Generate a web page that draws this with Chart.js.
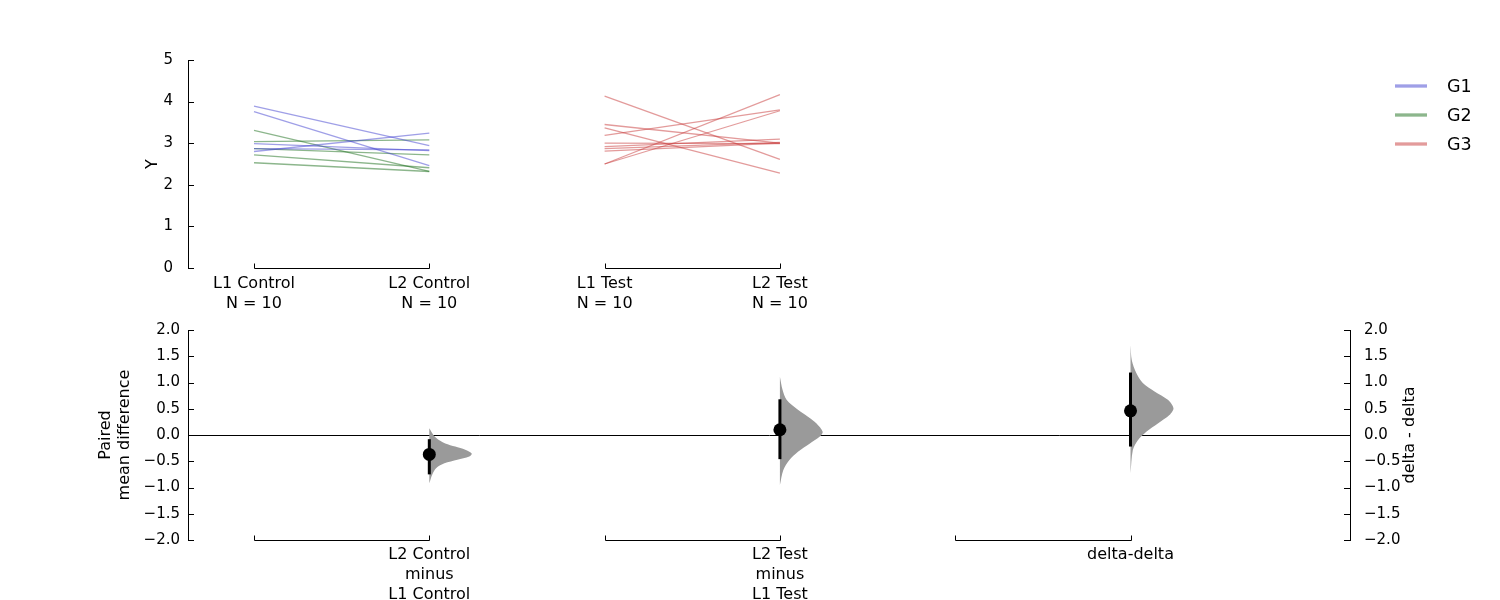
<!DOCTYPE html>
<html>
<head>
<meta charset="utf-8">
<script src="https://cdn.jsdelivr.net/npm/chart.js@4/dist/chart.umd.min.js"></script>
<style>
html,body{margin:0;padding:0;background:#fff;width:1500px;height:600px;overflow:hidden;}
#topWrap{position:absolute;left:0;top:0;width:1500px;height:320px;}
#botWrap{position:absolute;left:0;top:300px;width:1500px;height:300px;}
</style>
</head>
<body>
<div id="topWrap"><canvas id="topChart" width="1500" height="320"></canvas></div>
<div id="botWrap"><canvas id="botChart" width="1500" height="300"></canvas></div>
<script>
// ---------------- DATA ----------------
const groupNames = ['G1', 'G2', 'G3'];
const groupColors = ['rgba(64,64,208,0.5)', 'rgba(26,110,26,0.5)', 'rgba(200,56,56,0.5)'];

const pairedCategories = ['L1 Control', 'L2 Control', 'L1 Test', 'L2 Test'];
const sampleSizes = [10, 10, 10, 10];

const controlL1 = [3.89, 3.76, 2.80, 2.99, 2.87, 3.31, 3.04, 2.87, 2.72, 2.53];
const controlL2 = [2.94, 2.46, 3.24, 2.82, 2.84, 2.32, 3.08, 2.72, 2.41, 2.32];
const controlGroup = ['G1', 'G1', 'G1', 'G1', 'G1', 'G2', 'G2', 'G2', 'G2', 'G2'];

const testL1 = [4.13, 3.37, 3.19, 2.50, 2.50, 3.45, 3.00, 2.92, 2.87, 2.81];
const testL2 = [2.61, 2.28, 3.80, 4.17, 3.78, 3.00, 2.99, 3.10, 3.02, 3.00];
const testGroup = ['G3', 'G3', 'G3', 'G3', 'G3', 'G3', 'G3', 'G3', 'G3', 'G3'];

const yTicksTop = [0, 1, 2, 3, 4, 5];

const deltaLabels = [['L2 Control', 'minus', 'L1 Control'], ['L2 Test', 'minus', 'L1 Test'], ['delta-delta']];
const deltaMeans = [-0.37, 0.10, 0.46];
const ciLow = [-0.75, -0.46, -0.22];
const ciHigh = [-0.08, 0.68, 1.19];

// bootstrap distribution outlines (value, half-width in x units)
const violin1Y = [0.13, 0.05, -0.03, -0.10, -0.16, -0.22, -0.28, -0.35, -0.41, -0.47, -0.54, -0.63, -0.75, -0.92];
const violin1W = [0, 0.014, 0.031, 0.057, 0.091, 0.148, 0.205, 0.242, 0.228, 0.160, 0.086, 0.040, 0.017, 0];
const violin2Y = [1.11, 0.86, 0.67, 0.48, 0.35, 0.22, 0.06, -0.03, -0.16, -0.32, -0.48, -0.67, -0.95];
const violin2W = [0, 0.015, 0.038, 0.103, 0.160, 0.209, 0.244, 0.228, 0.171, 0.103, 0.053, 0.019, 0];
const violin3Y = [1.71, 1.43, 1.18, 0.99, 0.83, 0.67, 0.51, 0.38, 0.22, 0.06, -0.10, -0.29, -0.73];
const violin3W = [0, 0.007, 0.033, 0.070, 0.137, 0.213, 0.245, 0.222, 0.156, 0.090, 0.042, 0.013, 0];

const yTicksBottom = [-2.0, -1.5, -1.0, -0.5, 0.0, 0.5, 1.0, 1.5, 2.0];

const topYTitle = 'Y';
const bottomYTitle = ['Paired', 'mean difference'];
const rightYTitle = 'delta - delta';

// ---------------- SETUP ----------------
Chart.defaults.font.family = "'DejaVu Sans', sans-serif";
Chart.defaults.color = '#000';
Chart.defaults.animation = false;

const X_MIN = -0.3765, X_MAX = 6.252;
const colorOf = g => groupColors[groupNames.indexOf(g)];
const fmt = v => v.toFixed(1).replace('-', '\u2212');

const inwardTicks = {
  id: 'inwardTicks',
  afterDraw(chart) {
    const ctx = chart.ctx, ca = chart.chartArea;
    ctx.save();
    ctx.strokeStyle = '#000';
    ctx.lineWidth = 1;
    Object.values(chart.scales).forEach(s => {
      if (s.axis !== 'y') return;
      const left = s.position === 'left';
      const x0 = left ? Math.round(ca.left) : Math.round(ca.right);
      const dir = left ? 1 : -1;
      s.ticks.forEach(t => {
        const y = Math.round(s.getPixelForValue(t.value)) + 0.5;
        ctx.beginPath();
        ctx.moveTo(x0, y);
        ctx.lineTo(x0 + dir * 6, y);
        ctx.stroke();
      });
    });
    ctx.restore();
  }
};

const brackets = {
  id: 'brackets',
  afterDraw(chart, args, opts) {
    const pairs = (opts && opts.pairs) || [];
    if (!pairs.length) return;
    const ctx = chart.ctx, xs = chart.scales.x;
    const y = Math.round(chart.chartArea.bottom) + 0.5;
    ctx.save();
    ctx.strokeStyle = '#000';
    ctx.lineWidth = 1;
    pairs.forEach(([a, b]) => {
      const xa = Math.round(xs.getPixelForValue(a)) + 0.5;
      const xb = Math.round(xs.getPixelForValue(b)) + 0.5;
      ctx.beginPath();
      ctx.moveTo(xa, y - 5);
      ctx.lineTo(xa, y);
      ctx.lineTo(xb, y);
      ctx.lineTo(xb, y - 5);
      ctx.stroke();
    });
    ctx.restore();
  }
};

const sideLegend = {
  id: 'sideLegend',
  afterDraw(chart, args, opts) {
    if (!opts || !opts.names) return;
    const ctx = chart.ctx;
    const x0 = chart.width - 105;
    ctx.save();
    ctx.font = "17.5px 'DejaVu Sans', sans-serif";
    ctx.textBaseline = 'middle';
    ctx.textAlign = 'left';
    opts.names.forEach((n, i) => {
      const y = 86 + i * 29;
      ctx.strokeStyle = opts.colors[i];
      ctx.lineWidth = 3.3;
      ctx.beginPath();
      ctx.moveTo(x0, y);
      ctx.lineTo(x0 + 32, y);
      ctx.stroke();
      ctx.fillStyle = '#000';
      ctx.fillText(n, x0 + 52, y + 1);
    });
    ctx.restore();
  }
};

// right-hand axis label, read bottom-to-top as in the reference
const rightAxisTitle = {
  id: 'rightAxisTitle',
  afterDraw(chart, args, opts) {
    if (!opts || !opts.text) return;
    const ctx = chart.ctx, ca = chart.chartArea;
    ctx.save();
    ctx.translate(ca.right + 60, (ca.top + ca.bottom) / 2);
    ctx.rotate(-Math.PI / 2);
    ctx.font = "16px 'DejaVu Sans', sans-serif";
    ctx.fillStyle = '#000';
    ctx.textAlign = 'center';
    ctx.textBaseline = 'middle';
    ctx.fillText(opts.text, 0, 0);
    ctx.restore();
  }
};

// ---------------- TOP CHART ----------------
const topDatasets = [];
controlL1.forEach((v, i) => {
  topDatasets.push({
    label: controlGroup[i],
    data: [{x: 0, y: v}, {x: 1, y: controlL2[i]}],
    borderColor: colorOf(controlGroup[i]),
    borderWidth: 1.3, pointRadius: 0, fill: false
  });
});
testL1.forEach((v, i) => {
  topDatasets.push({
    label: testGroup[i],
    data: [{x: 2, y: v}, {x: 3, y: testL2[i]}],
    borderColor: colorOf(testGroup[i]),
    borderWidth: 1.3, pointRadius: 0, fill: false
  });
});

const topPairs = [];
for (let i = 0; i < pairedCategories.length; i += 2) topPairs.push([i, i + 1]);

new Chart(document.getElementById('topChart'), {
  type: 'line',
  data: {datasets: topDatasets},
  options: {
    responsive: false,
    animation: false,
    layout: {padding: {top: 60, left: 0, right: 150, bottom: 0}},
    plugins: {
      legend: {display: false},
      tooltip: {enabled: false},
      brackets: {pairs: topPairs},
      sideLegend: {names: groupNames, colors: groupColors}
    },
    scales: {
      x: {
        type: 'linear', min: X_MIN, max: X_MAX,
        grid: {display: false},
        border: {display: false},
        afterBuildTicks: s => { s.ticks = pairedCategories.map((c, i) => ({value: i})); },
        afterFit: s => { s.height = 52; },
        ticks: {
          autoSkip: false, maxRotation: 0, padding: -2,
          font: {size: 16, lineHeight: 1.25},
          callback: (v, i) => [pairedCategories[i], 'N = ' + sampleSizes[i]]
        }
      },
      y: {
        type: 'linear', position: 'left', min: 0, max: 5,
        grid: {display: false},
        border: {display: true, color: '#000', width: 1},
        afterBuildTicks: s => { s.ticks = yTicksTop.map(v => ({value: v})); },
        afterFit: s => { s.width = 188; },
        ticks: {padding: 7, font: {size: 15}, callback: v => String(v)},
        title: {display: true, text: topYTitle, font: {size: 16, lineHeight: 1.2}, padding: {top: 143.4, bottom: 0}}
      }
    }
  },
  plugins: [inwardTicks, brackets, sideLegend]
});

// ---------------- BOTTOM CHART ----------------
const deltaPos = deltaMeans.map((m, i) => 2 * i + 1);
const violinYs = [violin1Y, violin2Y, violin3Y];
const violinWs = [violin1W, violin2W, violin3W];

const botDatasets = [];
violinYs.forEach((ys, k) => {
  botDatasets.push({
    label: 'bootstrap ' + (k + 1),
    data: ys.map((v, i) => ({x: deltaPos[k] + violinWs[k][i], y: v})),
    borderWidth: 0,
    borderColor: 'rgba(0,0,0,0)',
    backgroundColor: '#9a9a9a',
    pointRadius: 0,
    tension: 0.3,
    fill: 'shape',
    order: 3
  });
});
deltaMeans.forEach((m, k) => {
  botDatasets.push({
    label: 'CI ' + (k + 1),
    data: [{x: deltaPos[k], y: ciLow[k]}, {x: deltaPos[k], y: ciHigh[k]}],
    borderColor: '#000', borderWidth: 3, pointRadius: 0, fill: false,
    order: 2
  });
});
botDatasets.push({
  label: 'mean difference',
  data: deltaMeans.map((m, k) => ({x: deltaPos[k], y: m})),
  showLine: false,
  pointRadius: 6.5,
  pointBackgroundColor: '#000',
  pointBorderColor: '#000',
  pointBorderWidth: 0,
  order: 1
});

const botPairs = deltaPos.map(p => [p - 1, p]);

new Chart(document.getElementById('botChart'), {
  type: 'line',
  data: {datasets: botDatasets},
  options: {
    responsive: false,
    animation: false,
    layout: {padding: {top: 30, left: 0, right: 0, bottom: 0}},
    plugins: {
      legend: {display: false},
      tooltip: {enabled: false},
      brackets: {pairs: botPairs},
      rightAxisTitle: {text: rightYTitle}
    },
    scales: {
      x: {
        type: 'linear', min: X_MIN, max: X_MAX,
        grid: {display: false},
        border: {display: false},
        afterBuildTicks: s => { s.ticks = deltaPos.map(p => ({value: p})); },
        afterFit: s => { s.height = 60; },
        ticks: {
          autoSkip: false, maxRotation: 0, padding: -3,
          font: {size: 16, lineHeight: 1.25},
          callback: (v, i) => deltaLabels[i]
        }
      },
      y: {
        type: 'linear', position: 'left', min: -2, max: 2,
        z: 1,
        grid: {
          display: true, drawOnChartArea: true, drawTicks: false,
          color: c => (c.tick && c.tick.value === 0) ? '#000' : 'rgba(0,0,0,0)',
          lineWidth: 1
        },
        border: {display: true, color: '#000', width: 1},
        afterBuildTicks: s => { s.ticks = yTicksBottom.map(v => ({value: v})); },
        afterFit: s => { s.width = 188; },
        ticks: {padding: 8, font: {size: 15}, callback: v => fmt(v)},
        title: {display: true, text: bottomYTitle, font: {size: 16, lineHeight: 1.2}, padding: {top: 96.4, bottom: 0}}
      },
      y2: {
        type: 'linear', position: 'right', min: -2, max: 2,
        grid: {display: false},
        border: {display: true, color: '#000', width: 1},
        afterBuildTicks: s => { s.ticks = yTicksBottom.map(v => ({value: v})); },
        afterFit: s => { s.width = 150; },
        ticks: {padding: 6, font: {size: 15}, callback: v => fmt(v)},
        title: {display: false, text: rightYTitle}
      }
    }
  },
  plugins: [inwardTicks, brackets, rightAxisTitle]
});
</script>
</body>
</html>
